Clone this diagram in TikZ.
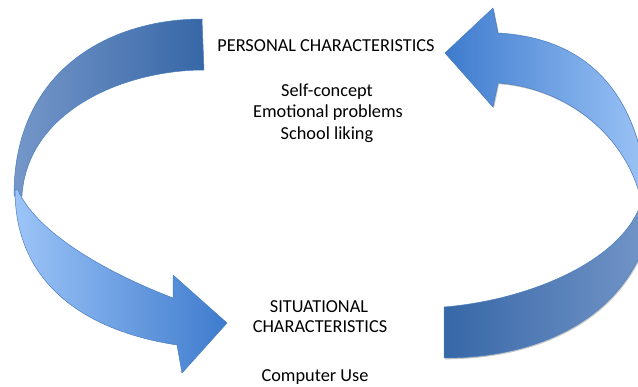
\documentclass[tikz,border=0pt]{standalone}
\usepackage{fontspec}
\setmainfont{Carlito}
\usepackage{xcolor}
\usepackage{tikz}
\usetikzlibrary{shadows}

\definecolor{backdark}{HTML}{3767A7}
\definecolor{backlight}{HTML}{7597C9}
\definecolor{frontdark}{HTML}{3E7BCD}
\definecolor{frontlight}{HTML}{9CC4F7}
\definecolor{rim}{HTML}{4A7EBF}

\begin{document}
\begin{tikzpicture}[x=1pt,y=-1pt,
        ribbon/.style={draw=rim,line width=.5pt,line join=round},
        lifted/.style={drop shadow={shadow xshift=1pt,shadow yshift=-1.3pt,fill=black!45,opacity=.5}},
        heading/.style={font=\fontsize{18.3}{22}\selectfont,inner sep=0pt,anchor=base}]
            \useasboundingbox (0,0) rectangle (638,387);
            \clip (0,0) rectangle (638,387);

            % left loop: back face, then front face with head
            \draw[ribbon,left color=backlight,right color=backdark]
                (202,19) .. controls (110,19) and (14,70) .. (14,195)
                -- (18,201) -- (22,195) .. controls (28,110) and (125,70) .. (204,70) -- cycle;
            \draw[ribbon,left color=frontlight,right color=frontdark]
                (18,190) .. controls (35,230) and (100,270) .. (173,298)
                -- (173,275) -- (227,323) -- (182,373) -- (177,345)
                .. controls (80,330) and (15,280) .. (15,190) -- cycle;

            % right loop: back face, then front face with head
            \draw[ribbon,lifted,left color=backdark,right color=backlight]
                (444,307) .. controls (530,300) and (625,260) .. (642,200)
                -- (655,195) .. controls (648,300) and (560,358) .. (444,358) -- cycle;
            \draw[ribbon,lifted,left color=frontdark,right color=frontlight]
                (445,53) -- (493,8) -- (498,33) .. controls (585,38) and (640,90) .. (648,200)
                -- (642,205) .. controls (630,140) and (570,88) .. (498,83) -- (493,107) -- cycle;

            \node[heading] (personal) at (326,52) {PERSONAL CHARACTERISTICS};
            \node[heading] (selfconcept) at (327,97) {Self-concept};
            \node[heading] (emotional) at (328,118) {Emotional problems};
            \node[heading] (liking) at (327,140) {School liking};

            \node[heading] (situational) at (319,313) {SITUATIONAL};
            \node[heading] (situchar) at (320,333) {CHARACTERISTICS};
            \node[heading] (computer) at (315,382) {Computer Use};
        \end{tikzpicture}
\end{document}
